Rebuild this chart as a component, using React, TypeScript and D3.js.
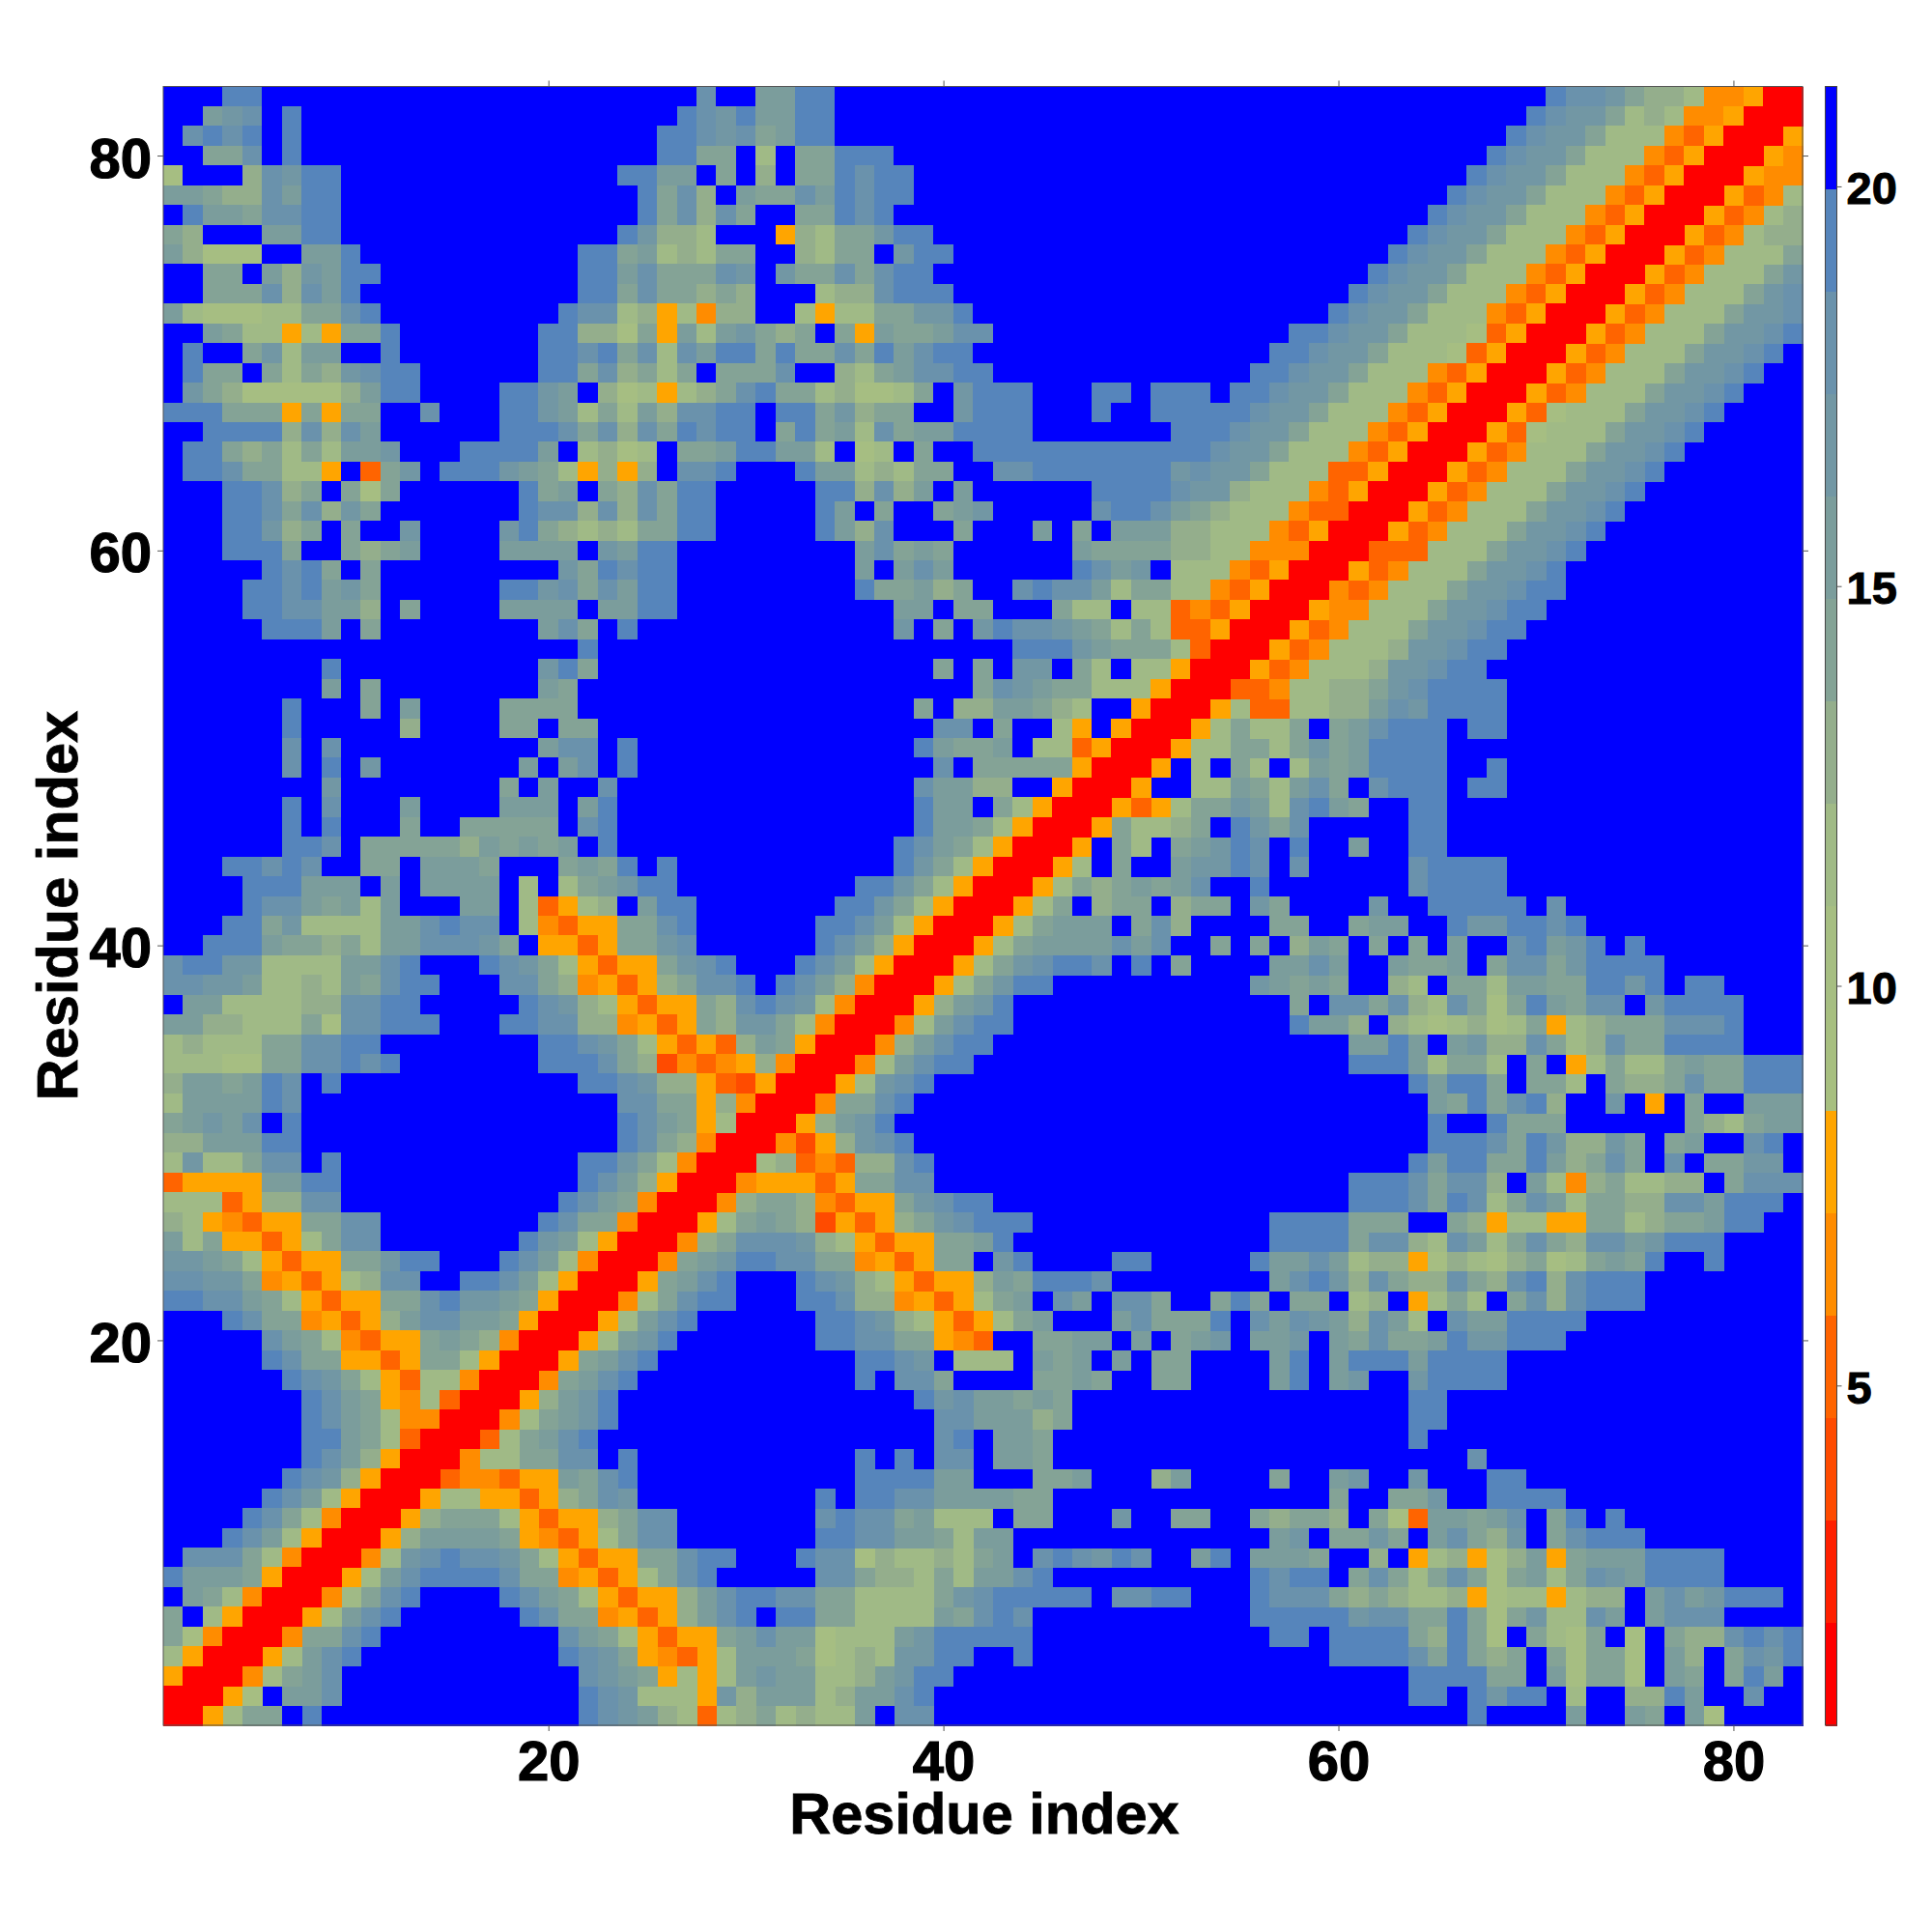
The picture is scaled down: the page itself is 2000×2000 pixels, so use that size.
import * as d3 from 'd3';
import React, { useEffect, useRef } from 'react';

// binned distance level per residue pair, hex digit = colour bin (0 red ... f blue)
// rows run from residue 83 down to 1, each row holds columns 1..row, the map is symmetric
const levelRows = [
	"fffeefffff ffffffffff fffffffdff bbeeffffff ffffffffff ffffffffff ffffffffff eddca99844 500",
	"ffbcdfefff ffffffffff ffffffedce bbeeffffff ffffffffff ffffffffff fffffffffe dcca898445 00",
	"fdedefefff ffffffffff fffffeedcd abeeffffff ffffffffff ffffffffff ffffffffed cca8884350 0",
	"ffaadfefff ffffffffff fffffeeaaf 8faaeeefff ffffffffff ffffffffff fffffffedc ca88843500",
	"7fff9dceef ffffffffff fffeebbfaf 9faaedeeff ffffffffff ffffffffff ffffffedcc a88843500",
	"bba99dbeef ffffffffff ffffead9fb aadbedeeff ffffffffff ffffffffff fffffedcca 88843500",
	"febbaddeef ffffffffff ffffead9da ffaaedefff ffffffffff ffffffffff ffffedcca8 8843500",
	"a9fffbbeef ffffffffff fffec998ff f598aaceef ffffffffff ffffffffff fffedcca88 843500",
	"b9777ffbbe ffffffffff feeab898aa ff98aafcee ffffffffff ffffffffff ffedcca888 43500",
	"ffaafb9cbe efffffffff feebdaaadc fcaadadeef ffffffffff ffffffffff fedcca8884 3500",
	"ffaaad9dbe ffffffffff feeadaa9a9 fff899deee ffffffffff ffffffffff edcca88843 500",
	"b877788aad efffffffff edd8958499 ff8588aacc efffffffff fffffffffe dcca888435 00",
	"ffba88585a aefffffffe e997a5b8bc a9afa5baab ddffffffff fffffffeed cca8887350 0",
	"feffac8bbf fefffffffe edead8dbee aeaadaebde efffffffff ffffffeedc ca88873500",
	"feaafa8a9c deeffffffe ead9a8afaa adff98abdd eeffffffff fffffeedcc a88843500",
	"fca9777779 beeffffeec bf978589ad eaa89778af ceeefffeef eeefeedcca 88843500",
	"eeeaaa5a5a affdfffeec b8a8b9ddee feeac9aaff ceeefffeff eeeeedcca8 8843500",
	"ffeeee9d9d bffffffeee dad9daedee faeab8dabb eeeeffffff feeedcca88 843500",
	"feea9a8a8b bcfffeeeeb f8978faabe ebb8f78faf feeeeeeeee eeedcca888 43500",
	"feedaa885f 3acfeeecba 85959fddef ffebb898aa ffddeeeeee ecdcca8883 3500",
	"fffeed9afa 7affffffea bfa9daeeff fffee9d9bf bffffffeee edcc988843 500",
	"fffeedad9c afffffffed d9d9daeeff fffebfaffa bcfffffdee dba9888433 00",
	"fffeec9afa ffcffffcea 9898aaeeff fffeb9dfff afffbfafbb b998884350 0",
	"fffeeeaffa 9abffffbbb bfcbeeffff fffffbdaba ffffffbaaa a998844400",
	"fffffedeaf afffffffff caedeeffff fffffbfbdb ffffffedbc f88843500",
	"ffffeedebc affffffeec dadbeeffff fffffeaab9 affdeddb8a a8843500",
	"ffffeeddbb 9faffffbbb bfbbeeffff fffffffbbf aafffa88f8 8343500",
	"fffffeeebf affffffffb dafeffffff fffffffcfa fceddcba8a 833500",
	"ffffffffff ffffffffff feffffffff ffffffffff fffeeecbaa a8300",
	"ffffffffef fffffffffc eaffffffff fffffffffa fafccfa8f8 8500",
	"ffffffffbf affffffffb afffffffff ffffffffff fadcbaa888 500",
	"ffffffefff afbffffaaa afffffffff ffffffffaf 99bba98ff5 00",
	"ffffffefff ff9ffffaaf aaffffffff fffffffffd dfaff85f50 0",
	"ffffffdfdf fffffffffb ddfeffffff ffffffffeb aabf883500",
	"ffffffdfef cfffffffbf bdfeffffff fffffffffd faaaaa500",
	"ffffffffcf fffffffafb ffdfffffff ffffffffdb b99ff500",
	"ffffffefdf ffbffffbbb fbefffffff ffffffffeb bfa8500",
	"ffffffefef ffaffaaaaa fdefffffff ffffffffeb ba8500",
	"ffffffeedf aaaaa9baba bfefffffff fffffffedb a8500",
	"fffeededff aafbbbafff abaefeffff fffffffeca 8500",
	"ffffeeebbb fbfbbbbf8f 8abceeffff fffffeeca8 500",
	"ffffeddbab 8bfffbbf83 589fbeefff ffffeeca85 00",
	"fffeeac888 8bbdeddf84 355aadefff fffeedb850 0",
	"ffeeebaa9a 8bbdddcaf5 535aacdfff fffedb9500",
	"deecc8888b bdefffedca 85355acdef ffedb8500",
	"ddccb8898b adeefffdda 945359adde fedb9400",
	"fbb888899d deefffffed c985355a9d edc8400",
	"bb99888a7d deeefffeed d994535a9c ca8400",
	"89888aadde effffffffe edca853539 ba500",
	"88877aadde defffffffe eeda924345 9400",
	"9bbabedfef ffffffffff feedc99532 500",
	"8bbbbedfff ffffffffff fffddaa594 00",
	"abcbdfefff ffffffffff fffedba580 0",
	"99bbbeefff ffffffffff fffeda9400",
	"8c88addfef ffffffffff feeca8400",
	"35555bbeef ffffffffff fedb9500",
	"8883599ddf ffffffffff edba400",
	"9854355aad dffffffffe daa400",
	"b8a55358ad dfffffffec b8500",
	"ccba85355a aceefffedb 8400",
	"ddcca45358 9ddffeedb8 500",
	"eeddba8535 5aadeccba5 00",
	"fffedaa453 59bddbba50 0",
	"fffffdba84 355aba9400",
	"fffffedaa5 535aa8500",
	"ffffffedca 85388400",
	"fffffffedb a548300",
	"fffffffedb a84400",
	"fffffffeeb a8300",
	"fffffffedb 9500",
	"ffffffedc9 500",
	"fffffedb85 00",
	"ffffeda840 0",
	"fffedb8500",
	"fddda8400",
	"ebbba500",
	"fba8400",
	"af8500",
	"a7400",
	"8500",
	"500",
	"00",
	"0",
];

const palette = [
	"#ff0000", "#ff2000", "#ff4b00", "#ff6400", "#ff8c00", "#ffa500",
	"#a7bf80", "#a6be82", "#a0ba86", "#94ae8c", "#84a396", "#7b9d9c",
	"#7297a4", "#6a92ac", "#5685bb", "#0000ff",
];

const axisTicks = [20, 40, 60, 80];
const barTicks = [5, 10, 15, 20];
const nResidues = 83;
const barDomain = [0.75, 21.25];
const axisTitle = "Residue index";
const fontFamily = '"Liberation Sans", Arial, sans-serif';

const App = () => {
	const svgRef = useRef(null);

	useEffect(() => {
		const svg = d3.select(svgRef.current);
		svg.selectAll("*").remove();

		const plot = { left: 169, right: 1866, top: 89.5, bottom: 1786 };
		const bar = { left: 1889.5, right: 1901.5 };

		const x = d3.scaleLinear().domain([0.5, nResidues + 0.5]).range([plot.left, plot.right]);
		const y = d3.scaleLinear().domain([0.5, nResidues + 0.5]).range([plot.bottom, plot.top]);
		const barY = d3.scaleLinear().domain(barDomain).range([plot.bottom, plot.top]);
		const color = d3.scaleQuantize<string>().domain(barDomain).range(palette);
		const binWidth = (barDomain[1] - barDomain[0]) / palette.length;

		// undo the triangular storage: (i, j) and (j, i) share a level
		const cells: { i: number; j: number; level: number }[] = [];
		levelRows.forEach((row, r) => {
			const j = nResidues - r;
			row.replace(/ /g, "").split("").forEach((ch, c) => {
				const i = c + 1;
				const level = parseInt(ch, 16);
				cells.push({ i, j, level });
				if (i !== j) cells.push({ i: j, j: i, level });
			});
		});

		const cw = x(2) - x(1);
		svg.append("g")
			.attr("shape-rendering", "crispEdges")
			.selectAll("rect")
			.data(cells)
			.enter()
			.append("rect")
			.attr("x", d => x(d.i - 0.5))
			.attr("y", d => y(d.j + 0.5))
			.attr("width", cw + 0.5)
			.attr("height", cw + 0.5)
			.attr("fill", d => color(barDomain[0] + (d.level + 0.5) * binWidth));

		svg.append("rect")
			.attr("x", plot.left)
			.attr("y", plot.top)
			.attr("width", plot.right - plot.left)
			.attr("height", plot.bottom - plot.top)
			.attr("fill", "none")
			.attr("stroke", "#555")
			.attr("stroke-width", 1);

		const styleAxis = (g: any) => {
			g.select(".domain").remove();
			g.selectAll(".tick line").attr("stroke", "#555").attr("stroke-width", 1);
			g.selectAll("text")
				.attr("fill", "#000")
				.attr("stroke", "#000")
				.attr("stroke-width", 1.2)
				.attr("font-family", fontFamily)
				.attr("font-weight", "bold");
		};

		svg.append("g")
			.attr("transform", `translate(0,${plot.bottom})`)
			.call(d3.axisBottom(x).tickValues(axisTicks).tickSize(6).tickFormat(d3.format("d")))
			.call(styleAxis)
			.selectAll("text")
			.attr("font-size", 58)
			.attr("y", 57)
			.attr("dy", 0);

		svg.append("g")
			.attr("transform", `translate(${plot.left},0)`)
			.call(d3.axisLeft(y).tickValues(axisTicks).tickSize(6).tickPadding(6).tickFormat(d3.format("d")))
			.call(styleAxis)
			.selectAll("text")
			.attr("font-size", 58)
			.attr("dy", 22);

		svg.append("g")
			.attr("transform", `translate(0,${plot.top})`)
			.call(d3.axisTop(x).tickValues(axisTicks).tickSize(6).tickFormat(() => ""))
			.call(styleAxis);

		svg.append("g")
			.attr("transform", `translate(${plot.right},0)`)
			.call(d3.axisRight(y).tickValues(axisTicks).tickSize(6).tickFormat(() => ""))
			.call(styleAxis);

		// colour bar
		svg.append("g")
			.attr("shape-rendering", "crispEdges")
			.selectAll("rect")
			.data(palette)
			.enter()
			.append("rect")
			.attr("x", bar.left)
			.attr("y", (_, k) => barY(barDomain[0] + (k + 1) * binWidth))
			.attr("width", bar.right - bar.left)
			.attr("height", barY(barDomain[0]) - barY(barDomain[0] + binWidth) + 0.5)
			.attr("fill", d => d);

		svg.append("rect")
			.attr("x", bar.left)
			.attr("y", plot.top)
			.attr("width", bar.right - bar.left)
			.attr("height", plot.bottom - plot.top)
			.attr("fill", "none")
			.attr("stroke", "#444")
			.attr("stroke-width", 1);

		svg.append("g")
			.attr("transform", `translate(${bar.right},0)`)
			.call(d3.axisRight(barY).tickValues(barTicks).tickSize(5).tickPadding(5).tickFormat(d3.format("d")))
			.call(styleAxis)
			.selectAll("text")
			.attr("font-size", 47)
			.attr("stroke-width", 1)
			.attr("dy", 18);

		svg.append("text")
			.attr("x", 1019)
			.attr("y", 1897.5)
			.attr("text-anchor", "middle")
			.attr("font-family", fontFamily)
			.attr("font-weight", "bold")
			.attr("font-size", 59.5)
			.attr("stroke", "#000")
			.attr("stroke-width", 0.8)
			.text(axisTitle);

		svg.append("text")
			.attr("transform", "translate(80,937.5) rotate(-90)")
			.attr("text-anchor", "middle")
			.attr("font-family", fontFamily)
			.attr("font-weight", "bold")
			.attr("font-size", 59.5)
			.attr("stroke", "#000")
			.attr("stroke-width", 0.8)
			.text(axisTitle);
	}, []);

	return (
		<svg
			ref={svgRef}
			width={2000}
			height={2000}
			style={{ position: "absolute", left: 0, top: 0, background: "#fff" }}
		/>
	);
};

export default App;
